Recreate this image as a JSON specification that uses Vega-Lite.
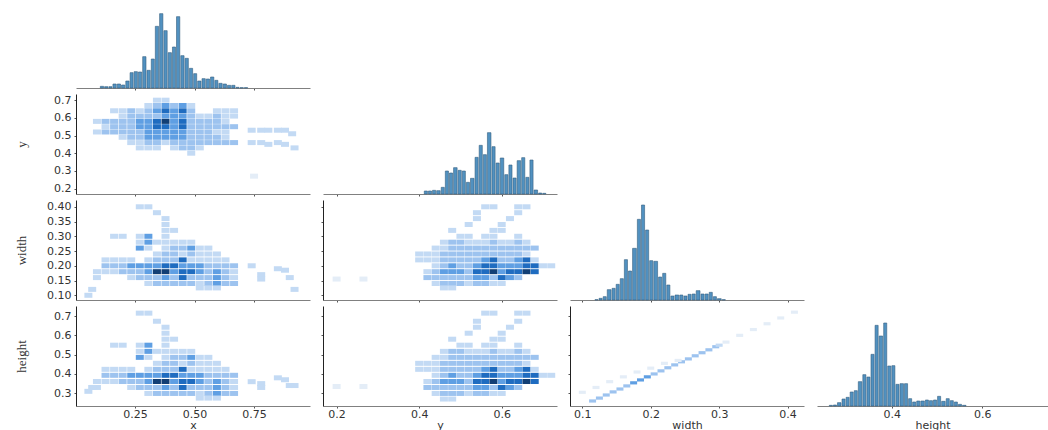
{"$schema":"https://vega.github.io/schema/vega-lite/v6.json","background":"white","padding":{"left":14,"top":10,"right":0,"bottom":0},"bounds":"flush","columns":4,"spacing":{"row":6,"column":13},
"config":{"view":{"stroke":null},"axis":{"grid":false,"labelFont":"DejaVu Sans","labelFontSize":11,"labelColor":"#333333","titleFont":"DejaVu Sans","titleFontSize":11,"titleFontWeight":"normal","titleColor":"#333333","tickSize":2,"tickColor":"#555555","domainColor":"#808080","labelPadding":0,"titlePadding":0},"bar":{"fill":"#5191c0","stroke":"#35607f","strokeWidth":0.6}},
"datasets":{
"h1":[{"from":0.1,"to":0.118,"count":5},{"from":0.118,"to":0.136,"count":4},{"from":0.136,"to":0.153,"count":4},{"from":0.153,"to":0.171,"count":12},{"from":0.171,"to":0.189,"count":12},{"from":0.189,"to":0.207,"count":9},{"from":0.207,"to":0.225,"count":21},{"from":0.225,"to":0.242,"count":46},{"from":0.242,"to":0.26,"count":49},{"from":0.26,"to":0.278,"count":48},{"from":0.278,"to":0.296,"count":94},{"from":0.296,"to":0.314,"count":53},{"from":0.314,"to":0.331,"count":87},{"from":0.331,"to":0.349,"count":185},{"from":0.349,"to":0.367,"count":223},{"from":0.367,"to":0.385,"count":172},{"from":0.385,"to":0.403,"count":106},{"from":0.403,"to":0.42,"count":123},{"from":0.42,"to":0.438,"count":214},{"from":0.438,"to":0.456,"count":97},{"from":0.456,"to":0.474,"count":89},{"from":0.474,"to":0.492,"count":59},{"from":0.492,"to":0.509,"count":43},{"from":0.509,"to":0.527,"count":21},{"from":0.527,"to":0.545,"count":28},{"from":0.545,"to":0.563,"count":27},{"from":0.563,"to":0.581,"count":33},{"from":0.581,"to":0.598,"count":23},{"from":0.598,"to":0.616,"count":14},{"from":0.616,"to":0.634,"count":12},{"from":0.634,"to":0.652,"count":8},{"from":0.652,"to":0.67,"count":8},{"from":0.67,"to":0.687,"count":2},{"from":0.687,"to":0.705,"count":1},{"from":0.705,"to":0.723,"count":1}],
"h2":[{"from":0.41,"to":0.42,"count":9},{"from":0.42,"to":0.43,"count":9},{"from":0.43,"to":0.44,"count":11},{"from":0.44,"to":0.451,"count":10},{"from":0.451,"to":0.461,"count":20},{"from":0.461,"to":0.471,"count":69},{"from":0.471,"to":0.481,"count":63},{"from":0.481,"to":0.492,"count":79},{"from":0.492,"to":0.502,"count":71},{"from":0.502,"to":0.512,"count":69},{"from":0.512,"to":0.522,"count":35},{"from":0.522,"to":0.533,"count":47},{"from":0.533,"to":0.543,"count":110},{"from":0.543,"to":0.553,"count":146},{"from":0.553,"to":0.563,"count":118},{"from":0.563,"to":0.574,"count":184},{"from":0.574,"to":0.584,"count":142},{"from":0.584,"to":0.594,"count":93},{"from":0.594,"to":0.605,"count":108},{"from":0.605,"to":0.615,"count":58},{"from":0.615,"to":0.625,"count":87},{"from":0.625,"to":0.635,"count":48},{"from":0.635,"to":0.646,"count":100},{"from":0.646,"to":0.656,"count":109},{"from":0.656,"to":0.666,"count":50},{"from":0.666,"to":0.676,"count":102},{"from":0.676,"to":0.687,"count":12},{"from":0.687,"to":0.697,"count":3},{"from":0.697,"to":0.707,"count":2}],
"h3":[{"from":0.117,"to":0.123,"count":1},{"from":0.123,"to":0.129,"count":5},{"from":0.129,"to":0.135,"count":10},{"from":0.135,"to":0.142,"count":31},{"from":0.142,"to":0.148,"count":35},{"from":0.148,"to":0.154,"count":47},{"from":0.154,"to":0.16,"count":64},{"from":0.16,"to":0.166,"count":121},{"from":0.166,"to":0.172,"count":87},{"from":0.172,"to":0.179,"count":155},{"from":0.179,"to":0.185,"count":242},{"from":0.185,"to":0.191,"count":285},{"from":0.191,"to":0.197,"count":210},{"from":0.197,"to":0.203,"count":118},{"from":0.203,"to":0.21,"count":116},{"from":0.21,"to":0.216,"count":69},{"from":0.216,"to":0.222,"count":80},{"from":0.222,"to":0.228,"count":45},{"from":0.228,"to":0.234,"count":12},{"from":0.234,"to":0.241,"count":15},{"from":0.241,"to":0.247,"count":15},{"from":0.247,"to":0.253,"count":12},{"from":0.253,"to":0.259,"count":17},{"from":0.259,"to":0.265,"count":18},{"from":0.265,"to":0.272,"count":28},{"from":0.272,"to":0.278,"count":18},{"from":0.278,"to":0.284,"count":18},{"from":0.284,"to":0.29,"count":23},{"from":0.29,"to":0.296,"count":10},{"from":0.296,"to":0.303,"count":4},{"from":0.303,"to":0.309,"count":1}],
"h4":[{"from":0.26,"to":0.269,"count":2},{"from":0.269,"to":0.278,"count":3},{"from":0.278,"to":0.288,"count":10},{"from":0.288,"to":0.297,"count":21},{"from":0.297,"to":0.306,"count":26},{"from":0.306,"to":0.315,"count":42},{"from":0.315,"to":0.324,"count":46},{"from":0.324,"to":0.334,"count":73},{"from":0.334,"to":0.343,"count":94},{"from":0.343,"to":0.352,"count":87},{"from":0.352,"to":0.361,"count":155},{"from":0.361,"to":0.37,"count":242},{"from":0.37,"to":0.38,"count":210},{"from":0.38,"to":0.389,"count":249},{"from":0.389,"to":0.398,"count":120},{"from":0.398,"to":0.407,"count":121},{"from":0.407,"to":0.416,"count":65},{"from":0.416,"to":0.426,"count":67},{"from":0.426,"to":0.435,"count":67},{"from":0.435,"to":0.444,"count":22},{"from":0.444,"to":0.453,"count":12},{"from":0.453,"to":0.462,"count":15},{"from":0.462,"to":0.472,"count":15},{"from":0.472,"to":0.481,"count":18},{"from":0.481,"to":0.49,"count":16},{"from":0.49,"to":0.499,"count":18},{"from":0.499,"to":0.508,"count":29},{"from":0.508,"to":0.518,"count":14},{"from":0.518,"to":0.527,"count":22},{"from":0.527,"to":0.536,"count":16},{"from":0.536,"to":0.545,"count":12},{"from":0.545,"to":0.554,"count":5},{"from":0.554,"to":0.564,"count":2}],
"xy":[{"x":0.342,"y":0.7,"n":1},{"x":0.378,"y":0.7,"n":1},
{"x":0.306,"y":0.67,"n":1},{"x":0.342,"y":0.67,"n":2},{"x":0.378,"y":0.67,"n":3},{"x":0.414,"y":0.67,"n":2},{"x":0.45,"y":0.67,"n":3},{"x":0.486,"y":0.67,"n":1},
{"x":0.162,"y":0.64,"n":1},{"x":0.198,"y":0.64,"n":1},{"x":0.234,"y":0.64,"n":2},{"x":0.27,"y":0.64,"n":1},{"x":0.306,"y":0.64,"n":2},{"x":0.342,"y":0.64,"n":3},{"x":0.378,"y":0.64,"n":4},{"x":0.414,"y":0.64,"n":3},{"x":0.45,"y":0.64,"n":4},{"x":0.486,"y":0.64,"n":2},{"x":0.594,"y":0.64,"n":1},{"x":0.63,"y":0.64,"n":1},{"x":0.666,"y":0.64,"n":1},
{"x":0.198,"y":0.61,"n":1},{"x":0.234,"y":0.61,"n":2},{"x":0.27,"y":0.61,"n":2},{"x":0.306,"y":0.61,"n":2},{"x":0.342,"y":0.61,"n":2},{"x":0.378,"y":0.61,"n":3},{"x":0.414,"y":0.61,"n":3},{"x":0.45,"y":0.61,"n":3},{"x":0.486,"y":0.61,"n":2},{"x":0.522,"y":0.61,"n":1},{"x":0.558,"y":0.61,"n":1},{"x":0.594,"y":0.61,"n":2},{"x":0.63,"y":0.61,"n":1},{"x":0.666,"y":0.61,"n":1},
{"x":0.09,"y":0.58,"n":1},{"x":0.126,"y":0.58,"n":2},{"x":0.162,"y":0.58,"n":2},{"x":0.198,"y":0.58,"n":2},{"x":0.234,"y":0.58,"n":2},{"x":0.27,"y":0.58,"n":3},{"x":0.306,"y":0.58,"n":3},{"x":0.342,"y":0.58,"n":4},{"x":0.378,"y":0.58,"n":5},{"x":0.414,"y":0.58,"n":3},{"x":0.45,"y":0.58,"n":4},{"x":0.486,"y":0.58,"n":2},{"x":0.522,"y":0.58,"n":2},{"x":0.558,"y":0.58,"n":2},{"x":0.594,"y":0.58,"n":2},{"x":0.63,"y":0.58,"n":1},
{"x":0.126,"y":0.55,"n":1},{"x":0.162,"y":0.55,"n":2},{"x":0.198,"y":0.55,"n":2},{"x":0.234,"y":0.55,"n":2},{"x":0.27,"y":0.55,"n":3},{"x":0.306,"y":0.55,"n":3},{"x":0.342,"y":0.55,"n":4},{"x":0.378,"y":0.55,"n":4},{"x":0.414,"y":0.55,"n":3},{"x":0.45,"y":0.55,"n":4},{"x":0.486,"y":0.55,"n":2},{"x":0.522,"y":0.55,"n":2},{"x":0.558,"y":0.55,"n":2},{"x":0.594,"y":0.55,"n":2},{"x":0.63,"y":0.55,"n":2},{"x":0.666,"y":0.55,"n":2},{"x":0.74,"y":0.53,"n":1},{"x":0.78,"y":0.53,"n":1},{"x":0.81,"y":0.53,"n":1},{"x":0.85,"y":0.53,"n":1},{"x":0.88,"y":0.53,"n":1},
{"x":0.09,"y":0.52,"n":1},{"x":0.126,"y":0.52,"n":2},{"x":0.162,"y":0.52,"n":2},{"x":0.198,"y":0.52,"n":2},{"x":0.234,"y":0.52,"n":2},{"x":0.27,"y":0.52,"n":2},{"x":0.306,"y":0.52,"n":3},{"x":0.342,"y":0.52,"n":3},{"x":0.378,"y":0.52,"n":3},{"x":0.414,"y":0.52,"n":3},{"x":0.45,"y":0.52,"n":3},{"x":0.486,"y":0.52,"n":2},{"x":0.522,"y":0.52,"n":2},{"x":0.558,"y":0.52,"n":2},{"x":0.594,"y":0.52,"n":1},{"x":0.63,"y":0.52,"n":1},{"x":0.91,"y":0.51,"n":1},
{"x":0.198,"y":0.49,"n":1},{"x":0.234,"y":0.49,"n":2},{"x":0.27,"y":0.49,"n":2},{"x":0.306,"y":0.49,"n":3},{"x":0.342,"y":0.49,"n":3},{"x":0.378,"y":0.49,"n":3},{"x":0.414,"y":0.49,"n":3},{"x":0.45,"y":0.49,"n":3},{"x":0.486,"y":0.49,"n":2},{"x":0.522,"y":0.49,"n":2},{"x":0.558,"y":0.49,"n":2},{"x":0.594,"y":0.49,"n":2},{"x":0.63,"y":0.49,"n":1},
{"x":0.234,"y":0.46,"n":1},{"x":0.27,"y":0.46,"n":1},{"x":0.306,"y":0.46,"n":2},{"x":0.342,"y":0.46,"n":2},{"x":0.378,"y":0.46,"n":1},{"x":0.414,"y":0.46,"n":2},{"x":0.45,"y":0.46,"n":2},{"x":0.486,"y":0.46,"n":2},{"x":0.522,"y":0.46,"n":2},{"x":0.558,"y":0.46,"n":2},{"x":0.594,"y":0.46,"n":2},{"x":0.63,"y":0.46,"n":2},{"x":0.666,"y":0.46,"n":2},{"x":0.74,"y":0.46,"n":1},{"x":0.78,"y":0.46,"n":1},{"x":0.81,"y":0.45,"n":1},{"x":0.85,"y":0.46,"n":1},{"x":0.88,"y":0.45,"n":1},{"x":0.92,"y":0.43,"n":1},
{"x":0.27,"y":0.43,"n":1},{"x":0.306,"y":0.43,"n":1},{"x":0.342,"y":0.43,"n":1},{"x":0.414,"y":0.43,"n":1},{"x":0.45,"y":0.43,"n":2},{"x":0.486,"y":0.43,"n":2},{"x":0.522,"y":0.43,"n":1},{"x":0.486,"y":0.4,"n":1},{"x":0.75,"y":0.27,"n":0}],
"xwh":[{"x":0.27,"w":0.4,"h":0.715,"n":1},{"x":0.306,"w":0.4,"h":0.715,"n":1},{"x":0.342,"w":0.38,"h":0.673,"n":1},{"x":0.378,"w":0.36,"h":0.642,"n":1},{"x":0.378,"w":0.34,"h":0.611,"n":1},{"x":0.378,"w":0.32,"h":0.58,"n":1},{"x":0.414,"w":0.32,"h":0.58,"n":1},
{"x":0.162,"w":0.3,"h":0.549,"n":1},{"x":0.198,"w":0.3,"h":0.549,"n":1},{"x":0.27,"w":0.3,"h":0.549,"n":1},{"x":0.306,"w":0.3,"h":0.549,"n":3},{"x":0.378,"w":0.3,"h":0.549,"n":1},
{"x":0.27,"w":0.28,"h":0.517,"n":1},{"x":0.306,"w":0.28,"h":0.517,"n":3},{"x":0.342,"w":0.28,"h":0.517,"n":1},{"x":0.378,"w":0.28,"h":0.517,"n":1},{"x":0.414,"w":0.28,"h":0.517,"n":1},{"x":0.45,"w":0.28,"h":0.517,"n":1},{"x":0.486,"w":0.28,"h":0.517,"n":1},
{"x":0.27,"w":0.26,"h":0.486,"n":3},{"x":0.306,"w":0.26,"h":0.486,"n":1},{"x":0.378,"w":0.26,"h":0.486,"n":1},{"x":0.414,"w":0.26,"h":0.486,"n":2},{"x":0.45,"w":0.26,"h":0.486,"n":2},{"x":0.486,"w":0.26,"h":0.486,"n":3},{"x":0.522,"w":0.26,"h":0.486,"n":1},{"x":0.558,"w":0.26,"h":0.486,"n":1},
{"x":0.342,"w":0.24,"h":0.455,"n":1},{"x":0.378,"w":0.24,"h":0.455,"n":2},{"x":0.414,"w":0.24,"h":0.455,"n":2},{"x":0.45,"w":0.24,"h":0.455,"n":1},{"x":0.486,"w":0.24,"h":0.455,"n":2},{"x":0.522,"w":0.24,"h":0.455,"n":1},{"x":0.558,"w":0.24,"h":0.455,"n":1},{"x":0.594,"w":0.24,"h":0.455,"n":1},
{"x":0.126,"w":0.22,"h":0.424,"n":1},{"x":0.162,"w":0.22,"h":0.424,"n":1},{"x":0.198,"w":0.22,"h":0.424,"n":1},{"x":0.234,"w":0.22,"h":0.424,"n":1},{"x":0.306,"w":0.22,"h":0.424,"n":1},{"x":0.342,"w":0.22,"h":0.424,"n":2},{"x":0.378,"w":0.22,"h":0.424,"n":2},{"x":0.414,"w":0.22,"h":0.424,"n":2},{"x":0.45,"w":0.22,"h":0.424,"n":4},{"x":0.486,"w":0.22,"h":0.424,"n":1},{"x":0.522,"w":0.22,"h":0.424,"n":1},{"x":0.558,"w":0.22,"h":0.424,"n":1},{"x":0.594,"w":0.22,"h":0.424,"n":1},{"x":0.63,"w":0.22,"h":0.424,"n":1},
{"x":0.126,"w":0.2,"h":0.393,"n":2},{"x":0.162,"w":0.2,"h":0.393,"n":2},{"x":0.198,"w":0.2,"h":0.393,"n":2},{"x":0.234,"w":0.2,"h":0.393,"n":3},{"x":0.27,"w":0.2,"h":0.393,"n":3},{"x":0.306,"w":0.2,"h":0.393,"n":3},{"x":0.342,"w":0.2,"h":0.393,"n":3},{"x":0.378,"w":0.2,"h":0.393,"n":4},{"x":0.414,"w":0.2,"h":0.393,"n":4},{"x":0.45,"w":0.2,"h":0.393,"n":3},{"x":0.486,"w":0.2,"h":0.393,"n":3},{"x":0.522,"w":0.2,"h":0.393,"n":3},{"x":0.558,"w":0.2,"h":0.393,"n":2},{"x":0.594,"w":0.2,"h":0.393,"n":2},{"x":0.63,"w":0.2,"h":0.393,"n":2},{"x":0.666,"w":0.2,"h":0.393,"n":2},{"x":0.74,"w":0.2,"h":0.36,"n":1},{"x":0.78,"w":0.17,"h":0.35,"n":1},{"x":0.85,"w":0.19,"h":0.38,"n":1},{"x":0.88,"w":0.185,"h":0.37,"n":1},
{"x":0.09,"w":0.18,"h":0.361,"n":1},{"x":0.126,"w":0.18,"h":0.361,"n":1},{"x":0.162,"w":0.18,"h":0.361,"n":1},{"x":0.198,"w":0.18,"h":0.361,"n":2},{"x":0.234,"w":0.18,"h":0.361,"n":2},{"x":0.27,"w":0.18,"h":0.361,"n":2},{"x":0.306,"w":0.18,"h":0.361,"n":3},{"x":0.342,"w":0.18,"h":0.361,"n":5},{"x":0.378,"w":0.18,"h":0.361,"n":5},{"x":0.414,"w":0.18,"h":0.361,"n":3},{"x":0.45,"w":0.18,"h":0.361,"n":4},{"x":0.486,"w":0.18,"h":0.361,"n":4},{"x":0.522,"w":0.18,"h":0.361,"n":3},{"x":0.558,"w":0.18,"h":0.361,"n":2},{"x":0.594,"w":0.18,"h":0.361,"n":3},{"x":0.63,"w":0.18,"h":0.361,"n":2},{"x":0.666,"w":0.18,"h":0.361,"n":1},{"x":0.9,"w":0.16,"h":0.34,"n":1},
{"x":0.09,"w":0.16,"h":0.33,"n":1},{"x":0.234,"w":0.16,"h":0.33,"n":1},{"x":0.27,"w":0.16,"h":0.33,"n":2},{"x":0.306,"w":0.16,"h":0.33,"n":2},{"x":0.342,"w":0.16,"h":0.33,"n":2},{"x":0.378,"w":0.16,"h":0.33,"n":3},{"x":0.414,"w":0.16,"h":0.33,"n":2},{"x":0.45,"w":0.16,"h":0.33,"n":4},{"x":0.486,"w":0.16,"h":0.33,"n":2},{"x":0.522,"w":0.16,"h":0.33,"n":2},{"x":0.558,"w":0.16,"h":0.33,"n":2},{"x":0.594,"w":0.16,"h":0.33,"n":3},{"x":0.63,"w":0.16,"h":0.33,"n":2},{"x":0.666,"w":0.16,"h":0.33,"n":1},{"x":0.78,"w":0.155,"h":0.33,"n":1},
{"x":0.306,"w":0.14,"h":0.299,"n":1},{"x":0.342,"w":0.14,"h":0.299,"n":2},{"x":0.378,"w":0.14,"h":0.299,"n":2},{"x":0.414,"w":0.14,"h":0.299,"n":2},{"x":0.45,"w":0.14,"h":0.299,"n":2},{"x":0.486,"w":0.14,"h":0.299,"n":2},{"x":0.522,"w":0.14,"h":0.299,"n":1},{"x":0.558,"w":0.14,"h":0.299,"n":2},{"x":0.594,"w":0.14,"h":0.299,"n":3},{"x":0.63,"w":0.14,"h":0.299,"n":2},{"x":0.666,"w":0.14,"h":0.299,"n":2},{"x":0.92,"w":0.12,"h":0.34,"n":1},
{"x":0.522,"w":0.125,"h":0.275,"n":1},{"x":0.558,"w":0.125,"h":0.275,"n":1},{"x":0.594,"w":0.125,"h":0.275,"n":1},{"x":0.07,"w":0.12,"h":0.33,"n":1},{"x":0.054,"w":0.1,"h":0.31,"n":1}],
"ywh":[{"y":0.56,"w":0.4,"h":0.715,"n":1},{"y":0.58,"w":0.4,"h":0.715,"n":1},{"y":0.64,"w":0.4,"h":0.715,"n":1},{"y":0.66,"w":0.4,"h":0.715,"n":1},{"y":0.54,"w":0.38,"h":0.673,"n":1},{"y":0.64,"w":0.38,"h":0.673,"n":1},{"y":0.54,"w":0.36,"h":0.642,"n":1},{"y":0.62,"w":0.36,"h":0.642,"n":1},{"y":0.52,"w":0.34,"h":0.611,"n":1},{"y":0.6,"w":0.34,"h":0.611,"n":1},{"y":0.48,"w":0.32,"h":0.58,"n":1},{"y":0.58,"w":0.32,"h":0.58,"n":1},{"y":0.6,"w":0.32,"h":0.58,"n":1},
{"y":0.5,"w":0.3,"h":0.549,"n":1},{"y":0.52,"w":0.3,"h":0.549,"n":1},{"y":0.56,"w":0.3,"h":0.549,"n":1},{"y":0.58,"w":0.3,"h":0.549,"n":1},{"y":0.64,"w":0.3,"h":0.549,"n":1},
{"y":0.46,"w":0.28,"h":0.517,"n":1},{"y":0.48,"w":0.28,"h":0.517,"n":2},{"y":0.5,"w":0.28,"h":0.517,"n":2},{"y":0.52,"w":0.28,"h":0.517,"n":1},{"y":0.54,"w":0.28,"h":0.517,"n":1},{"y":0.56,"w":0.28,"h":0.517,"n":1},{"y":0.58,"w":0.28,"h":0.517,"n":2},{"y":0.6,"w":0.28,"h":0.517,"n":1},{"y":0.62,"w":0.28,"h":0.517,"n":1},{"y":0.64,"w":0.28,"h":0.517,"n":2},{"y":0.66,"w":0.28,"h":0.517,"n":1},
{"y":0.44,"w":0.26,"h":0.486,"n":1},{"y":0.46,"w":0.26,"h":0.486,"n":1},{"y":0.48,"w":0.26,"h":0.486,"n":2},{"y":0.5,"w":0.26,"h":0.486,"n":2},{"y":0.52,"w":0.26,"h":0.486,"n":2},{"y":0.54,"w":0.26,"h":0.486,"n":2},{"y":0.56,"w":0.26,"h":0.486,"n":2},{"y":0.58,"w":0.26,"h":0.486,"n":2},{"y":0.6,"w":0.26,"h":0.486,"n":2},{"y":0.62,"w":0.26,"h":0.486,"n":2},{"y":0.64,"w":0.26,"h":0.486,"n":2},{"y":0.66,"w":0.26,"h":0.486,"n":2},{"y":0.68,"w":0.26,"h":0.486,"n":2},
{"y":0.4,"w":0.24,"h":0.455,"n":1},{"y":0.42,"w":0.24,"h":0.455,"n":1},{"y":0.44,"w":0.24,"h":0.455,"n":1},{"y":0.46,"w":0.24,"h":0.455,"n":2},{"y":0.48,"w":0.24,"h":0.455,"n":2},{"y":0.5,"w":0.24,"h":0.455,"n":2},{"y":0.52,"w":0.24,"h":0.455,"n":2},{"y":0.54,"w":0.24,"h":0.455,"n":2},{"y":0.56,"w":0.24,"h":0.455,"n":2},{"y":0.58,"w":0.24,"h":0.455,"n":2},{"y":0.6,"w":0.24,"h":0.455,"n":2},{"y":0.62,"w":0.24,"h":0.455,"n":2},{"y":0.64,"w":0.24,"h":0.455,"n":2},{"y":0.66,"w":0.24,"h":0.455,"n":1},
{"y":0.4,"w":0.22,"h":0.424,"n":1},{"y":0.42,"w":0.22,"h":0.424,"n":1},{"y":0.44,"w":0.22,"h":0.424,"n":1},{"y":0.46,"w":0.22,"h":0.424,"n":2},{"y":0.48,"w":0.22,"h":0.424,"n":2},{"y":0.5,"w":0.22,"h":0.424,"n":2},{"y":0.52,"w":0.22,"h":0.424,"n":2},{"y":0.54,"w":0.22,"h":0.424,"n":2},{"y":0.56,"w":0.22,"h":0.424,"n":3},{"y":0.58,"w":0.22,"h":0.424,"n":4},{"y":0.6,"w":0.22,"h":0.424,"n":2},{"y":0.62,"w":0.22,"h":0.424,"n":2},{"y":0.64,"w":0.22,"h":0.424,"n":3},{"y":0.66,"w":0.22,"h":0.424,"n":4},{"y":0.68,"w":0.22,"h":0.424,"n":1},
{"y":0.44,"w":0.2,"h":0.393,"n":1},{"y":0.46,"w":0.2,"h":0.393,"n":2},{"y":0.48,"w":0.2,"h":0.393,"n":3},{"y":0.5,"w":0.2,"h":0.393,"n":2},{"y":0.52,"w":0.2,"h":0.393,"n":2},{"y":0.54,"w":0.2,"h":0.393,"n":3},{"y":0.56,"w":0.2,"h":0.393,"n":4},{"y":0.58,"w":0.2,"h":0.393,"n":4},{"y":0.6,"w":0.2,"h":0.393,"n":3},{"y":0.62,"w":0.2,"h":0.393,"n":3},{"y":0.64,"w":0.2,"h":0.393,"n":3},{"y":0.66,"w":0.2,"h":0.393,"n":4},{"y":0.68,"w":0.2,"h":0.393,"n":4},{"y":0.7,"w":0.2,"h":0.393,"n":1},{"y":0.72,"w":0.2,"h":0.393,"n":1},
{"y":0.42,"w":0.18,"h":0.361,"n":1},{"y":0.44,"w":0.18,"h":0.361,"n":2},{"y":0.46,"w":0.18,"h":0.361,"n":3},{"y":0.48,"w":0.18,"h":0.361,"n":3},{"y":0.5,"w":0.18,"h":0.361,"n":3},{"y":0.52,"w":0.18,"h":0.361,"n":2},{"y":0.54,"w":0.18,"h":0.361,"n":4},{"y":0.56,"w":0.18,"h":0.361,"n":4},{"y":0.58,"w":0.18,"h":0.361,"n":5},{"y":0.6,"w":0.18,"h":0.361,"n":3},{"y":0.62,"w":0.18,"h":0.361,"n":4},{"y":0.64,"w":0.18,"h":0.361,"n":4},{"y":0.66,"w":0.18,"h":0.361,"n":5},{"y":0.68,"w":0.18,"h":0.361,"n":4},
{"y":0.42,"w":0.16,"h":0.33,"n":2},{"y":0.44,"w":0.16,"h":0.33,"n":2},{"y":0.46,"w":0.16,"h":0.33,"n":2},{"y":0.48,"w":0.16,"h":0.33,"n":2},{"y":0.5,"w":0.16,"h":0.33,"n":2},{"y":0.52,"w":0.16,"h":0.33,"n":2},{"y":0.54,"w":0.16,"h":0.33,"n":3},{"y":0.56,"w":0.16,"h":0.33,"n":3},{"y":0.58,"w":0.16,"h":0.33,"n":2},{"y":0.6,"w":0.16,"h":0.33,"n":4},{"y":0.62,"w":0.16,"h":0.33,"n":3},{"y":0.64,"w":0.16,"h":0.33,"n":2},
{"y":0.44,"w":0.14,"h":0.299,"n":1},{"y":0.46,"w":0.14,"h":0.299,"n":2},{"y":0.48,"w":0.14,"h":0.299,"n":2},{"y":0.5,"w":0.14,"h":0.299,"n":2},{"y":0.52,"w":0.14,"h":0.299,"n":1},{"y":0.54,"w":0.14,"h":0.299,"n":2},{"y":0.56,"w":0.14,"h":0.299,"n":2},{"y":0.58,"w":0.14,"h":0.299,"n":1},{"y":0.6,"w":0.14,"h":0.299,"n":1},{"y":0.46,"w":0.125,"h":0.27,"n":1},{"y":0.48,"w":0.125,"h":0.27,"n":1},{"y":0.2,"w":0.155,"h":0.335,"n":0},{"y":0.265,"w":0.155,"h":0.335,"n":0}],
"wh":[{"w":0.115,"h":0.26,"n":2},{"w":0.125,"h":0.275,"n":2},{"w":0.135,"h":0.291,"n":2},{"w":0.145,"h":0.307,"n":2},{"w":0.155,"h":0.322,"n":2},{"w":0.165,"h":0.338,"n":2},{"w":0.175,"h":0.354,"n":3},{"w":0.185,"h":0.369,"n":3},{"w":0.195,"h":0.385,"n":3},{"w":0.205,"h":0.4,"n":2},{"w":0.215,"h":0.416,"n":2},{"w":0.225,"h":0.432,"n":2},{"w":0.235,"h":0.447,"n":2},{"w":0.245,"h":0.463,"n":2},{"w":0.255,"h":0.478,"n":2},{"w":0.265,"h":0.494,"n":2},{"w":0.275,"h":0.51,"n":2},{"w":0.285,"h":0.525,"n":2},{"w":0.295,"h":0.541,"n":2},{"w":0.3,"h":0.549,"n":1},
{"w":0.1,"h":0.305,"n":0},{"w":0.12,"h":0.33,"n":0},{"w":0.14,"h":0.36,"n":0},{"w":0.16,"h":0.385,"n":0},{"w":0.18,"h":0.41,"n":0},{"w":0.2,"h":0.43,"n":0},{"w":0.22,"h":0.455,"n":0},{"w":0.24,"h":0.47,"n":0},{"w":0.31,"h":0.565,"n":0},{"w":0.33,"h":0.6,"n":0},{"w":0.35,"h":0.63,"n":0},{"w":0.37,"h":0.66,"n":0},{"w":0.39,"h":0.69,"n":0},{"w":0.41,"h":0.72,"n":0}]},
"concat":[
{"width":234,"height":78,"data":{"name":"h1"},"mark":"bar","encoding":{"x":{"field":"from","type":"quantitative","bin":"binned","scale":{"domain":[0.002,0.985],"nice":false},"axis":{"values":[0.25,0.5,0.75],"labels":false,"title":null}},"x2":{"field":"to"},"y":{"field":"count","type":"quantitative","scale":{"domain":[0,234]},"axis":null}}},
{"width":234,"height":78,"data":{"values":[{"k":0}]},"mark":{"type":"point","opacity":0},"encoding":{}},
{"width":234,"height":78,"data":{"values":[{"k":0}]},"mark":{"type":"point","opacity":0},"encoding":{}},
{"width":231,"height":78,"data":{"values":[{"k":0}]},"mark":{"type":"point","opacity":0},"encoding":{}},

{"width":234,"height":100,"data":{"name":"xy"},"mark":{"type":"rect","width":8,"height":5},"encoding":{"x":{"field":"x","type":"quantitative","scale":{"domain":[0.002,0.985],"nice":false},"axis":{"values":[0.25,0.5,0.75],"labels":false,"title":null}},"y":{"field":"y","type":"quantitative","scale":{"domain":[0.169,0.735],"nice":false},"axis":{"values":[0.2,0.3,0.4,0.5,0.6,0.7],"format":".1f","labelPadding":3,"title":"y","titleX":-48,"titleFont":"Liberation Sans Narrow","titleFontSize":13,"domainColor":"#222222"}},"color":{"field":"n","type":"quantitative","scale":{"domain":[0,1,2,3,4,5],"range":["#e4edf7","#c3daf4","#9dc3ef","#5f9fe3","#1f6cc0","#123f75"]},"legend":null}}},
{"width":234,"height":100,"data":{"name":"h2"},"mark":"bar","encoding":{"x":{"field":"from","type":"quantitative","bin":"binned","scale":{"domain":[0.167,0.734],"nice":false},"axis":{"values":[0.2,0.4,0.6],"labels":false,"title":null}},"x2":{"field":"to"},"y":{"field":"count","type":"quantitative","scale":{"domain":[0,300]},"axis":null}}},
{"width":234,"height":100,"data":{"values":[{"k":0}]},"mark":{"type":"point","opacity":0},"encoding":{}},
{"width":231,"height":100,"data":{"values":[{"k":0}]},"mark":{"type":"point","opacity":0},"encoding":{}},

{"width":234,"height":100,"data":{"name":"xwh"},"mark":{"type":"rect","width":8,"height":5},"encoding":{"x":{"field":"x","type":"quantitative","scale":{"domain":[0.002,0.985],"nice":false},"axis":{"values":[0.25,0.5,0.75],"labels":false,"title":null}},"y":{"field":"w","type":"quantitative","scale":{"domain":[0.084,0.423],"nice":false},"axis":{"values":[0.1,0.15,0.2,0.25,0.3,0.35,0.4],"format":".2f","labelPadding":3,"title":"width","titleX":-48,"titleFont":"Liberation Sans Narrow","titleFontSize":13,"domainColor":"#222222"}},"color":{"field":"n","type":"quantitative","scale":{"domain":[0,1,2,3,4,5],"range":["#e4edf7","#c3daf4","#9dc3ef","#5f9fe3","#1f6cc0","#123f75"]},"legend":null}}},
{"width":234,"height":100,"data":{"name":"ywh"},"mark":{"type":"rect","width":8,"height":5},"encoding":{"x":{"field":"y","type":"quantitative","scale":{"domain":[0.167,0.734],"nice":false},"axis":{"values":[0.2,0.4,0.6],"labels":false,"title":null}},"y":{"field":"w","type":"quantitative","scale":{"domain":[0.084,0.423],"nice":false},"axis":{"values":[0.1,0.15,0.2,0.25,0.3,0.35,0.4],"labels":false,"title":null,"domainColor":"#222222"}},"color":{"field":"n","type":"quantitative","scale":{"domain":[0,1,2,3,4,5],"range":["#e4edf7","#c3daf4","#9dc3ef","#5f9fe3","#1f6cc0","#123f75"]},"legend":null}}},
{"width":234,"height":100,"data":{"name":"h3"},"mark":"bar","encoding":{"x":{"field":"from","type":"quantitative","bin":"binned","scale":{"domain":[0.082,0.424],"nice":false},"axis":{"values":[0.1,0.2,0.3,0.4],"labels":false,"title":null}},"x2":{"field":"to"},"y":{"field":"count","type":"quantitative","scale":{"domain":[0,300]},"axis":null}}},
{"width":231,"height":100,"data":{"values":[{"k":0}]},"mark":{"type":"point","opacity":0},"encoding":{}},

{"width":234,"height":100,"data":{"name":"xwh"},"mark":{"type":"rect","width":8,"height":5},"encoding":{"x":{"field":"x","type":"quantitative","scale":{"domain":[0.002,0.985],"nice":false},"axis":{"values":[0.25,0.5,0.75],"format":".2f","title":"x","titleY":13}},"y":{"field":"h","type":"quantitative","scale":{"domain":[0.234,0.752],"nice":false},"axis":{"values":[0.3,0.4,0.5,0.6,0.7],"format":".1f","labelPadding":3,"title":"height","titleX":-48,"titleFont":"Liberation Sans Narrow","titleFontSize":13,"domainColor":"#222222"}},"color":{"field":"n","type":"quantitative","scale":{"domain":[0,1,2,3,4,5],"range":["#e4edf7","#c3daf4","#9dc3ef","#5f9fe3","#1f6cc0","#123f75"]},"legend":null}}},
{"width":234,"height":100,"data":{"name":"ywh"},"mark":{"type":"rect","width":8,"height":5},"encoding":{"x":{"field":"y","type":"quantitative","scale":{"domain":[0.167,0.734],"nice":false},"axis":{"values":[0.2,0.4,0.6],"format":".1f","title":"y","titleY":13}},"y":{"field":"h","type":"quantitative","scale":{"domain":[0.234,0.752],"nice":false},"axis":{"values":[0.3,0.4,0.5,0.6,0.7],"labels":false,"title":null,"domainColor":"#222222"}},"color":{"field":"n","type":"quantitative","scale":{"domain":[0,1,2,3,4,5],"range":["#e4edf7","#c3daf4","#9dc3ef","#5f9fe3","#1f6cc0","#123f75"]},"legend":null}}},
{"width":234,"height":100,"data":{"name":"wh"},"mark":{"type":"rect","width":7,"height":3.2},"encoding":{"x":{"field":"w","type":"quantitative","scale":{"domain":[0.082,0.424],"nice":false},"axis":{"values":[0.1,0.2,0.3,0.4],"format":".1f","title":"width","titleY":13}},"y":{"field":"h","type":"quantitative","scale":{"domain":[0.234,0.752],"nice":false},"axis":{"values":[0.3,0.4,0.5,0.6,0.7],"labels":false,"title":null,"domainColor":"#222222"}},"color":{"field":"n","type":"quantitative","scale":{"domain":[0,1,2,3,4,5],"range":["#e4edf7","#c3daf4","#9dc3ef","#5f9fe3","#1f6cc0","#123f75"]},"legend":null}}},
{"width":231,"height":100,"data":{"name":"h4"},"mark":"bar","encoding":{"x":{"field":"from","type":"quantitative","bin":"binned","scale":{"domain":[0.235,0.745],"nice":false},"axis":{"values":[0.4,0.6],"format":".1f","title":"height","titleY":13}},"x2":{"field":"to"},"y":{"field":"count","type":"quantitative","scale":{"domain":[0,300]},"axis":null}}}
]}
